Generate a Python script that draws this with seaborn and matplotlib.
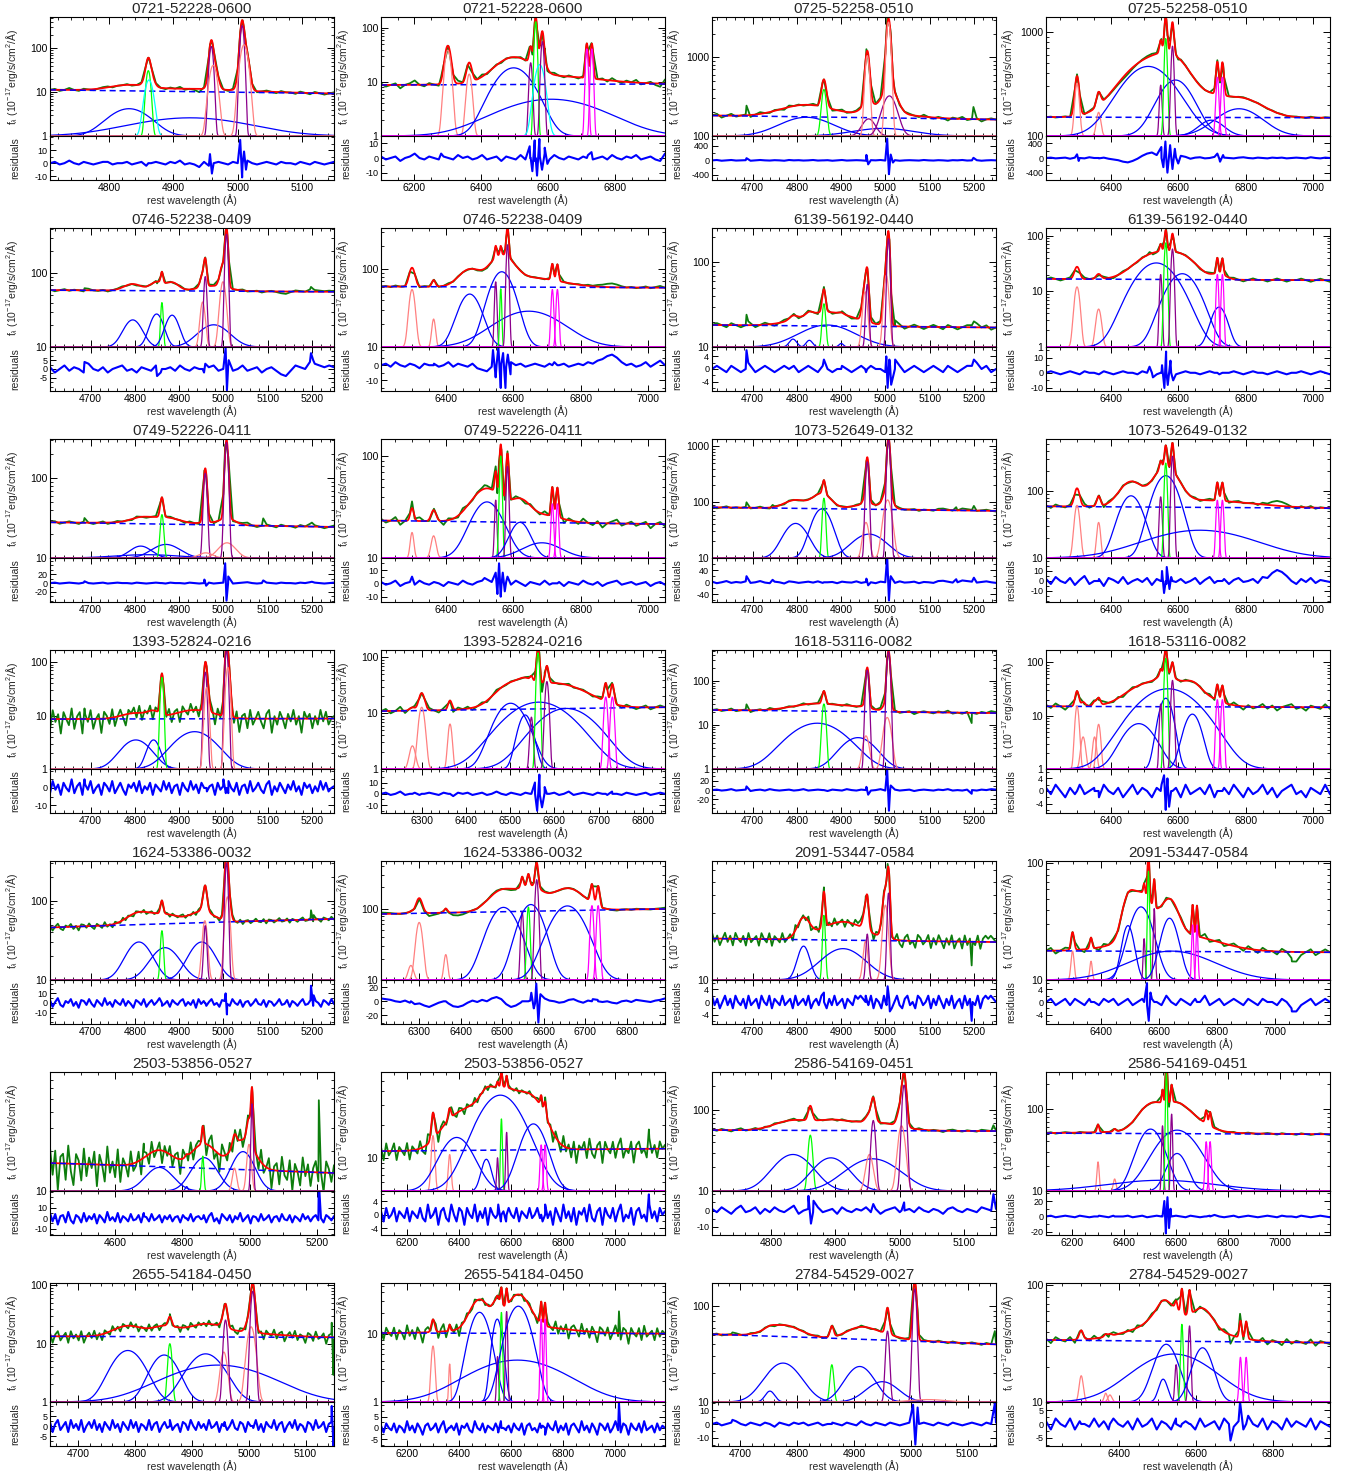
import numpy as np
import matplotlib
matplotlib.use('Agg')
import matplotlib.pyplot as plt
import seaborn as sns
from matplotlib.ticker import LogLocator, FuncFormatter, MultipleLocator, AutoMinorLocator, NullFormatter, FixedLocator

# ---------------- data ----------------
# component tuples: (centre [A], amplitude above axis floor, sigma [A], kind)
# kinds: B broad Balmer, N narrow Balmer, I intermediate Balmer, C forbidden core, W wing/[OI], S [SII]
# fscale: flux units per residual unit (how strongly the residual shows in the observed spectrum)

p01_title = '0721-52228-0600'; p01_x = (4708, 5150); p01_xstep = 100; p01_y = (1, 520); p01_cont = (11.3, 9.3)
p01_lines = [(4831, 3.2, 28, 'B'), (4926, 1.6, 80, 'B'), (4861, 30, 3, 'N'), (4862, 18, 5.5, 'I'),
             (4959, 110, 2.6, 'C'), (4962, 40, 5, 'W'), (5007, 330, 2.4, 'C'), (5010, 120, 5, 'W')]
p01_r = (-13, 21); p01_rticks = [-10, 0, 10]; p01_fscale = 0.6
p01_noise = [0,1,-1,0,2,0,-1,1,0,-1,0,1,1,-1,0,0,1,-1,0,1,-2,0,1,0,-1,1,0,2,-1,0,-1,-3,1,-2,0,1,0,-1,1,0,-1,2,0,-1,0,1,0,-1,1,0,0,-1,1,0,-1,1,0,-1,0,1]
p01_spikes = [(4957, 7), (4960, -8), (5004, 18), (5007, -11), (5010, 9), (5013, -5)]

p02_title = '0721-52228-0600'; p02_x = (6100, 6950); p02_xstep = 200; p02_y = (1, 160); p02_cont = (8.8, 9.2)
p02_lines = [(6300, 38, 8, 'W'), (6364, 13, 7, 'W'), (6497, 17.3, 48, 'B'), (6609, 3.8, 132, 'B'),
             (6548, 21.7, 4, 'C'), (6563, 130, 3.5, 'N'), (6575, 20, 12.5, 'I'), (6583, 55, 4, 'C'),
             (6716, 40, 3.5, 'S'), (6731, 40, 3.5, 'S')]
p02_r = (-15, 15); p02_rticks = [-10, 0, 10]; p02_fscale = 0.6
p02_noise = [1,-1,0,1,-2,0,1,3,0,-1,1,0,-1,1,0,-1,2,0,1,-1,0,2,-1,0,1,-2,1,0,-1,2,-1,0,-2,1,3,-1,2,0,-1,1,0,-1,1,2,-1,0,1,-1,2,0,-1,1,0,2,-1,0,1,-1,-2,3]
p02_spikes = [(6280, 3), (6545, 8), (6553, -9), (6560, 12), (6567, -12), (6574, 13), (6582, -8), (6590, 7), (6598, -4), (6730, 4)]

p03_title = '0725-52258-0510'; p03_x = (4608, 5250); p03_xstep = 100; p03_y = (100, 3250); p03_cont = (182, 162)
p03_lines = [(4821, 73, 55, 'B'), (4995, 25, 65, 'B'), (4861, 290, 5, 'N'), (4962, 65, 14, 'C'),
             (4959, 950, 4.5, 'W'), (5009, 223, 15, 'C'), (5007, 2700, 4.5, 'W')]
p03_r = (-540, 670); p03_rticks = [-400, 0, 400]; p03_fscale = 1.0
p03_noise = [0,10,-10,0,10,-5,0,5,-10,0,10,0,-5,5,0,-10,10,0,5,-5,0,10,-5,0,5,-10,0,10,-5,0,5,0,-10,5,0,10,-5,0,5,-10,0,5,0,-5,10,0,-5,5,0,-10,5,0,10,-5,0,5,-10,0,5,0]
p03_spikes = [(4686, 60), (4957, 150), (4961, -110), (5004, 600), (5008, -380), (5012, 160), (5017, -60), (5199, 70)]

p04_title = '0725-52258-0510'; p04_x = (6208, 7050); p04_xstep = 200; p04_y = (100, 1400); p04_cont = (152, 150)
p04_lines = [(6300, 221, 6, 'W'), (6364, 69, 6, 'W'), (6511, 368, 72, 'B'), (6592, 246, 47, 'B'),
             (6548, 209, 3.5, 'C'), (6563, 767, 4, 'N'), (6583, 633, 4, 'C'), (6698, 42, 35, 'B'),
             (6780, 83, 63, 'B'), (6716, 268, 4, 'S'), (6731, 268, 4, 'S')]
p04_r = (-600, 600); p04_rticks = [-400, 0, 400]; p04_fscale = 0.15
p04_noise = [0,10,-10,0,10,-20,10,0,-10,20,0,-10,10,-20,-40,-60,-100,-120,-80,-20,60,120,150,80,0,-30,40,20,60,30,-20,10,20,-10,0,30,-20,10,0,-10,10,20,0,-10,10,0,-10,10,0,10,-10,0,10,0,-10,20,0,-10,10,0]
p04_spikes = [(6300, 100), (6305, -80), (6550, 300), (6556, -250), (6562, 450), (6568, -400), (6576, 350), (6583, -300), (6590, 250), (6600, -150), (6716, 120), (6724, -100), (6733, 80)]

p05_title = '0746-52238-0409'; p05_x = (4608, 5250); p05_xstep = 100; p05_y = (10, 410); p05_cont = (59, 56)
p05_lines = [(4795, 13.3, 19, 'B'), (4849, 18, 14, 'B'), (4861, 30, 2.5, 'N'), (4884, 17, 14, 'B'),
             (4978, 10, 32, 'B'), (4953, 30.7, 5, 'W'), (4959, 80, 3, 'C'), (4999, 66.6, 6, 'W'), (5007, 327, 3, 'C')]
p05_r = (-12.5, 12.5); p05_rticks = [-5, 0, 5]; p05_fscale = 1.0
p05_noise = [1,-2,0,2,-1,1,0,-2,3,0,-1,1,-2,0,1,2,-1,0,-2,1,0,-1,2,-2,0,1,-1,2,0,-1,1,0,-2,1,2,-1,0,1,-1,0,2,-1,0,1,-2,0,1,-1,-3,-4,-1,2,1,0,4,3,2,1,2,1]
p05_spikes = [(4686, 4), (4850, -4), (4959, 3), (5005, 12), (5008, -12), (5012, 5), (5198, 9), (5203, 5)]

p06_title = '0746-52238-0409'; p06_x = (6208, 7050); p06_xstep = 200; p06_y = (10, 340); p06_cont = (60, 58)
p06_lines = [(6300, 45, 8, 'W'), (6364, 12.9, 5, 'W'), (6471, 38, 30, 'B'), (6566, 83, 32, 'B'),
             (6646, 18.9, 89, 'B'), (6548, 59, 3, 'C'), (6563, 46, 2.5, 'N'), (6583, 197, 3.5, 'C'),
             (6716, 45, 3.5, 'S'), (6731, 45, 3.5, 'S')]
p06_r = (-17, 12); p06_rticks = [-10, 0]; p06_fscale = 1.0
p06_noise = [0,1,-1,2,0,-1,1,0,-2,1,0,1,-1,0,2,-1,1,0,-1,1,-2,-3,-4,-1,0,1,-1,2,0,1,-1,0,1,0,-1,1,2,0,1,-1,0,1,0,2,1,3,4,6,7,5,2,0,1,-1,0,2,-1,1,3,0]
p06_spikes = [(6540, 10), (6548, -8), (6556, 12), (6563, -15), (6570, 8), (6577, -15), (6584, 7), (6592, -6)]

p07_title = '6139-56192-0440'; p07_x = (4608, 5250); p07_xstep = 100; p07_y = (10, 255); p07_cont = (18.2, 17)
p07_lines = [(4868, 8.2, 57, 'B'), (4791, 2.4, 8, 'B'), (4828, 2, 7, 'B'), (4900, 1, 5, 'B'),
             (4861, 22.4, 3.5, 'N'), (4954, 35, 5, 'W'), (4959, 45, 3, 'C'), (5002, 60, 5, 'W'), (5007, 180, 3, 'C')]
p07_r = (-7, 7); p07_rticks = [-4, 0, 4]; p07_fscale = 1.0
p07_noise = [0,1,0,-1,1,0,-1,0,1,-1,0,1,0,-1,0,1,0,1,-1,0,1,0,-1,1,0,-1,0,1,0,-1,0,1,-1,1,0,0,-1,1,0,1,-1,0,1,0,-1,0,1,0,-1,1,0,-1,0,1,1,2,0,1,-1,0]
p07_spikes = [(4686, 6), (4690, 2), (4861, 3), (5002, 4), (5005, -6), (5009, 3), (5013, -5), (5022, 3), (5200, 3)]

p08_title = '6139-56192-0440'; p08_x = (6208, 7050); p08_xstep = 200; p08_y = (1, 137); p08_cont = (16.7, 15.8)
p08_lines = [(6300, 11, 7, 'W'), (6364, 3.8, 7, 'W'), (6535, 31.3, 53, 'B'), (6612, 19.7, 40, 'B'),
             (6548, 19, 3, 'C'), (6563, 73, 3.5, 'N'), (6583, 56.6, 3.5, 'C'), (6721, 4.2, 20, 'B'),
             (6716, 19, 3, 'S'), (6731, 19, 3, 'S')]
p08_r = (-12, 17); p08_rticks = [-10, 0, 10]; p08_fscale = 1.0
p08_noise = [0,1,0,-1,0,1,0,-1,1,0,0,-1,1,0,-1,0,1,0,0,-1,1,0,0,-1,0,1,0,-1,0,1,0,0,-1,0,1,0,-1,0,0,1,0,-1,0,1,0,0,-1,0,1,0,-1,0,0,1,0,-1,0,1,0,-1]
p08_spikes = [(6515, 4), (6525, -3), (6552, 5), (6559, -10), (6564, 14), (6569, -8), (6577, 8), (6585, -5)]

p09_title = '0749-52226-0411'; p09_x = (4608, 5250); p09_xstep = 100; p09_y = (10, 310); p09_cont = (28, 24.5)
p09_lines = [(4813, 4.1, 23, 'B'), (4870, 4.8, 30, 'B'), (4827, 1, 70, 'B'), (4861, 25, 3.5, 'N'),
             (4959, 105, 3.5, 'C'), (4960, 1.6, 15, 'W'), (5008, 5.5, 18, 'W'), (5007, 270, 3.5, 'C')]
p09_r = (-43, 57); p09_rticks = [-20, 0, 20]; p09_fscale = 1.0
p09_noise = [0,1,-1,0,1,0,-1,1,0,-1,0,1,-1,0,1,0,0,-1,1,0,-1,0,1,0,-1,1,0,0,-1,1,0,-1,0,1,-1,0,1,0,-1,0,1,2,0,-1,0,1,0,-1,1,0,0,-1,1,0,2,1,0,-1,0,1]
p09_spikes = [(4686, 4), (4957, 8), (4961, -6), (5004, 45), (5007, -40), (5011, 15), (5090, 6), (5200, 3)]

p10_title = '0749-52226-0411'; p10_x = (6208, 7050); p10_xstep = 200; p10_y = (10, 147); p10_cont = (23.3, 21.5)
p10_lines = [(6300, 7.8, 5, 'W'), (6364, 6.5, 7, 'W'), (6522, 25.5, 42, 'B'), (6548, 27, 3, 'C'),
             (6563, 90, 3.5, 'N'), (6583, 69, 3.5, 'C'), (6620, 12.4, 28, 'B'), (6685, 4.1, 54, 'B'),
             (6716, 24, 3.5, 'S'), (6731, 24, 3.5, 'S')]
p10_r = (-14, 19); p10_rticks = [-10, 0, 10]; p10_fscale = 1.0
p10_noise = [1,-1,0,2,-2,0,1,-1,2,0,-1,1,0,-2,1,0,-1,2,0,-1,1,2,3,1,0,-2,1,-1,2,0,-2,1,0,-1,2,-1,0,1,-2,1,0,-1,2,0,-1,1,-2,0,1,2,-1,0,1,-1,0,1,-2,0,1,-1]
p10_spikes = [(6300, 5), (6515, 4), (6548, 8), (6553, -8), (6558, 15), (6563, -10), (6569, 8), (6575, -6), (6583, 5)]

p11_title = '1073-52649-0132'; p11_x = (4608, 5250); p11_xstep = 100; p11_y = (10, 1360); p11_cont = (81, 70)
p11_lines = [(4797, 31.7, 23.5, 'B'), (4856, 65.8, 19, 'B'), (4861, 108, 3, 'N'), (4963, 16.8, 34, 'B'),
             (4956, 33.5, 6, 'W'), (4959, 520, 3, 'C'), (5005, 100, 8, 'W'), (5007, 1290, 3, 'C')]
p11_r = (-65, 80); p11_rticks = [-40, 0, 40]; p11_fscale = 1.0
p11_noise = [2,-3,0,4,-2,1,-1,3,-2,0,4,-1,-3,2,0,-4,3,1,-2,0,2,-1,3,-2,0,1,-3,2,0,-1,3,-2,1,0,-3,2,0,1,-2,3,-1,0,2,-3,1,0,-2,4,5,2,-1,0,6,4,2,-1,1,3,0,-2]
p11_spikes = [(4686, 20), (4745, 8), (4957, 12), (4961, -10), (5004, 85), (5008, -60), (5012, 20), (5160, 10), (5200, 15)]

p12_title = '1073-52649-0132'; p12_x = (6208, 7050); p12_xstep = 200; p12_y = (10, 600); p12_cont = (59, 55.5)
p12_lines = [(6300, 51, 7, 'W'), (6364, 24, 5, 'W'), (6460, 75, 30, 'B'), (6548, 72, 3.5, 'C'),
             (6563, 160, 32, 'B'), (6563, 252, 3.5, 'N'), (6583, 323, 3.5, 'C'), (6664, 16, 140, 'B'),
             (6716, 63, 3.5, 'S'), (6731, 63, 3.5, 'S')]
p12_r = (-21, 23); p12_rticks = [-10, 0, 10]; p12_fscale = 1.0
p12_noise = [2,-3,4,0,-2,3,-4,1,5,-3,0,2,-5,3,1,-2,4,-3,0,2,-1,3,-4,2,0,-3,4,-1,2,-2,0,3,-3,1,4,-2,0,2,-3,1,3,-1,0,2,-2,4,3,8,11,9,5,0,-3,2,-1,3,-2,1,0,-1]
p12_spikes = [(6552, 10), (6558, -12), (6566, 14), (6574, -8)]

p13_title = '1393-52824-0216'; p13_x = (4608, 5250); p13_xstep = 100; p13_y = (1, 169); p13_cont = (8.6, 8.8)
p13_lines = [(4802, 2.5, 30, 'B'), (4842, 2.5, 13, 'B'), (4861, 50.8, 3, 'N'), (4935, 4, 41, 'B'),
             (4959, 64, 3, 'C'), (4962, 32.5, 4, 'W'), (5007, 165, 3, 'C'), (5010, 79, 4, 'W')]
p13_r = (-14.5, 11); p13_rticks = [-10, 0]; p13_fscale = 1.0
p13_noise = [-3,4,-1,2,-4,3,0,-2,5,-3,1,3,-4,2,-1,4,-3,0,2,-4,3,1,-2,4,-3,0,3,-1,-4,2,0,3,-2,4,-3,1,-1,3,-4,2,0,-2,4,-1,3,-3,1,2,-4,3,0,-2,4,-1,2,-3,3,0,-2,1,
             2,-4,3,-1,1,-3,4,0,-2,3,-4,1,2,-3,4,-2,0,3,-1,-3,2,4,-4,1,-2,3,0,-3,2,-1,4,-2,1,-4,3,0,2,-3,1,-2,4,-1,3,-2,0,1]
p13_spikes = [(4686, 5), (5000, 5), (5011, -3)]

p14_title = '1393-52824-0216'; p14_x = (6208, 6850); p14_xstep = 100; p14_y = (1, 136); p14_cont = (10.9, 12.8)
p14_lines = [(6300, 11.8, 6, 'W'), (6279, 1.6, 6, 'W'), (6364, 5.4, 4, 'W'), (6501, 14.1, 29, 'B'),
             (6534, 8.3, 14, 'B'), (6565, 14.8, 63, 'B'), (6627, 11.2, 56, 'B'), (6548, 7.5, 3, 'C'),
             (6563, 120, 3, 'N'), (6583, 36, 3.5, 'C'), (6716, 18.5, 3.5, 'S'), (6731, 18.5, 3.5, 'S')]
p14_r = (-17, 22); p14_rticks = [-10, 0, 10]; p14_fscale = 1.0
p14_noise = [0,1,-1,0,2,-1,0,1,-1,0,1,0,-1,1,0,-2,1,0,1,-1,0,1,-1,0,2,0,-1,1,0,-1,1,0,0,-1,1,0,1,-1,0,2,-1,0,1,0,-1,1,0,-1,2,0,-1,1,0,-1,0,1,-1,0,1,0]
p14_spikes = [(6556, 10), (6561, -15), (6566, 17), (6572, -12), (6578, 6)]

p15_title = '1618-53116-0082'; p15_x = (4608, 5250); p15_xstep = 100; p15_y = (1, 520); p15_cont = (22.2, 18.9)
p15_lines = [(4846, 10.1, 52, 'B'), (4938, 4.2, 33, 'B'), (4861, 29.5, 3.5, 'N'), (4956, 4.7, 6, 'W'),
             (4959, 179, 3, 'C'), (5004, 14, 7, 'W'), (5007, 469, 3, 'C')]
p15_r = (-50, 46); p15_rticks = [-20, 0, 20]; p15_fscale = 1.0
p15_noise = [0,1,-1,0,2,-1,0,1,-2,0,1,-1,2,0,-1,0,1,-1,0,2,-1,0,1,0,-2,1,0,-1,2,0,-1,1,0,-1,0,2,-1,0,1,-1,0,1,-2,0,1,0,-1,1,0,2,-1,0,-1,1,0,-1,1,0,2,1]
p15_spikes = [(4686, 8), (4957, 7), (4961, -10), (5004, 45), (5008, -45), (5012, 10), (5195, -8)]

p16_title = '1618-53116-0082'; p16_x = (6208, 7050); p16_xstep = 200; p16_y = (1, 171); p16_cont = (15, 14.4)
p16_lines = [(6300, 14, 5, 'W'), (6318, 3, 6, 'W'), (6364, 5.9, 5, 'W'), (6352, 3, 5, 'W'),
             (6483, 6.1, 40, 'B'), (6570, 31, 76, 'B'), (6563, 20.3, 17, 'B'), (6548, 15.6, 3, 'C'),
             (6563, 118, 3.5, 'N'), (6583, 45, 3.5, 'C'), (6642, 9.7, 21, 'B'), (6716, 19, 3.5, 'S'), (6731, 19, 3.5, 'S')]
p16_r = (-7, 7); p16_rticks = [-4, 0, 4]; p16_fscale = 1.0
p16_noise = [1,-1,2,0,-2,1,-1,2,-1,0,1,-2,2,0,-1,1,-2,0,2,-1,1,0,-2,1,2,-1,0,1,-2,2,-1,0,1,-1,2,-2,0,1,-1,2,0,-2,1,-1,0,2,-1,1,-2,0,1,2,-1,0,-2,1,0,-1,2,-1]
p16_spikes = [(6558, 5), (6563, -6), (6568, 4), (6573, -5)]

p17_title = '1624-53386-0032'; p17_x = (4608, 5250); p17_xstep = 100; p17_y = (10, 318); p17_cont = (46, 59)
p17_lines = [(4809, 20.2, 26, 'B'), (4868, 15.6, 29, 'B'), (4861, 31.9, 3, 'N'), (4951, 20.2, 26, 'B'),
             (4958, 46, 5, 'W'), (4959, 38.5, 3, 'C'), (5009, 102, 5, 'W'), (5007, 292, 3, 'C')]
p17_r = (-22, 24); p17_rticks = [-10, 0, 10]; p17_fscale = 1.0
p17_noise = [3,-4,1,5,-2,-4,2,0,4,-3,1,-5,3,2,-2,4,-1,-4,3,0,-3,5,-2,1,-4,3,0,-2,4,-3,2,-1,-5,3,1,-2,4,-4,0,3,-2,1,5,-3,-1,2,-4,3,0,-2,2,4,-3,1,-2,3,-5,4,-1,2,
             -3,1,4,-2,0,-4,3,2,-1,-3,4,0,-2,3,-4,1,2,-3,0,4,-1,-2,3,-4,2,1,-3,0,4,-2,-1,3,-4,2,0,-3,1,4,-2,-1,3,-3,2,0,-4,3,1,-2,4,-1]
p17_spikes = [(5005, 10), (5008, -12), (5198, 18), (5204, 8)]

p18_title = '1624-53386-0032'; p18_x = (6208, 6892); p18_xstep = 100; p18_y = (10, 464); p18_cont = (84, 99)
p18_lines = [(6300, 54, 7, 'W'), (6280, 6, 6, 'W'), (6364, 12.7, 4, 'W'), (6503, 94, 31, 'B'),
             (6548, 79.5, 3, 'C'), (6563, 95, 3, 'N'), (6569, 104, 26, 'B'), (6583, 244, 3.5, 'C'),
             (6657, 99, 36, 'B'), (6716, 100, 3.5, 'S'), (6731, 100, 3.5, 'S')]
p18_r = (-32, 30); p18_rticks = [-20, 0, 20]; p18_fscale = 1.0
p18_noise = [4,3,2,0,-1,1,-2,-4,-3,-6,-8,-5,-2,0,-3,-7,-8,-6,-2,1,-1,2,0,4,6,3,-4,-8,-6,-2,0,1,-3,2,4,1,0,-2,-1,2,3,0,-2,1,3,2,-1,0,-2,-3,0,1,-1,2,1,0,-1,1,2,4]
p18_spikes = [(6570, 12), (6576, -10), (6582, 25), (6587, -30), (6592, 10)]

p19_title = '2091-53447-0584'; p19_x = (4608, 5250); p19_xstep = 100; p19_y = (10, 70); p19_cont = (19.7, 18.6)
p19_lines = [(4815, 7.4, 13, 'B'), (4861, 18.8, 3, 'N'), (4904, 6.7, 47, 'B'), (4955, 8.9, 5, 'W'),
             (4959, 11.2, 3, 'C'), (5000, 24, 6, 'W'), (5007, 31.4, 3, 'C')]
p19_r = (-7, 7); p19_rticks = [-4, 0, 4]; p19_fscale = 1.0
p19_noise = [2,-1,1,-2,0,2,-1,1,-2,2,0,-1,1,-2,2,-1,0,1,-2,2,0,-1,2,-2,1,0,-1,2,-1,0,1,-2,2,-1,0,1,-1,2,-2,0,1,-1,2,0,-2,1,-1,2,-1,0,1,-2,1,0,-1,2,1,2,1,2,
             -1,2,-2,1,0,-2,2,-1,1,-2,0,2,-1,-2,1,2,-1,0,-2,2,1,-1,0,2,-2,1,-1,2,0,-2,1,-1,2,-2,0,1,-2,2,-1,1,0,-1,2,-2,1,2,1,2,1,0]
p19_spikes = [(4861, 3), (5005, 5), (5010, -3), (5195, -6)]

p20_title = '2091-53447-0584'; p20_x = (6208, 7192); p20_xstep = 200; p20_y = (10, 105); p20_cont = (17.8, 17.3)
p20_lines = [(6300, 7.7, 5, 'W'), (6364, 4.5, 4, 'W'), (6492, 19.3, 19, 'B'), (6537, 32.4, 36, 'B'),
             (6548, 12.6, 3, 'C'), (6563, 75.8, 3, 'N'), (6583, 31, 3, 'C'), (6636, 23.9, 27, 'B'),
             (6643, 7.7, 134, 'B'), (6716, 19.7, 3, 'S'), (6731, 19.7, 3, 'S')]
p20_r = (-7, 7); p20_rticks = [-4, 0, 4]; p20_fscale = 1.0
p20_noise = [0,1,-1,0,1,-1,1,0,-1,1,0,-1,1,0,1,-1,0,1,-1,0,1,-1,1,0,-1,2,0,-1,1,0,-1,1,0,2,-1,0,1,-1,0,1,0,-1,1,0,-1,1,0,0,-1,1,0,-2,-3,-1,0,1,-1,0,1,0]
p20_spikes = [(6558, 6), (6564, -6), (6570, 3), (7060, -3)]

p21_title = '2503-53856-0527'; p21_x = (4408, 5250); p21_xstep = 200; p21_y = (10, 80); p21_cont = (16.3, 13.7)
p21_lines = [(4732, 5.1, 38, 'B'), (4813, 0.8, 4, 'B'), (4865, 7.9, 35, 'B'), (4861, 8.4, 3, 'N'),
             (4980, 9.9, 31, 'B'), (4955, 4.9, 6, 'W'), (4998, 12.6, 6, 'W'), (5007, 36, 3, 'C')]
p21_r = (-16, 26); p21_rticks = [-10, 0, 10]; p21_fscale = 1.0
p21_noise = [5,-3,4,-6,2,3,-4,6,-2,-5,3,1,-4,5,-3,2,-1,4,-5,3,0,-4,6,-2,1,-3,5,-4,2,0,-3,4,-2,-1,3,-4,2,1,-3,4,-2,0,3,-4,2,-1,3,-3,1,2,-4,3,0,-2,4,-3,1,2,-1,3,
             -4,2,5,-3,0,-5,4,1,-2,3,-4,2,-1,5,-3,0,3,-5,2,1,-3,4,-2,0,3,-4,1,2,-3,4,-1,-2,3,-4,2,0,-3,4,-1,2,-3,1,3,-2,0,-4,3,1,-2,2]
p21_spikes = [(4686, 5), (5205, 35)]

p22_title = '2503-53856-0527'; p22_x = (6100, 7192); p22_xstep = 200; p22_y = (5, 60); p22_cont = (11.5, 12.1)
p22_lines = [(6300, 10.9, 6, 'W'), (6364, 5.7, 5, 'W'), (6391, 10.3, 58, 'B'), (6505, 4.7, 18, 'B'),
             (6559, 32, 80, 'B'), (6563, 17.6, 3, 'N'), (6548, 5, 3, 'C'), (6583, 12, 3, 'C'),
             (6686, 15.3, 45, 'B'), (6716, 8.1, 4, 'S'), (6731, 8.1, 4, 'S')]
p22_r = (-6, 7); p22_rticks = [-4, 0, 4]; p22_fscale = 1.0
p22_noise = [1,-2,2,-1,0,2,-2,1,0,-1,2,-2,1,0,-1,2,-1,-2,3,-1,0,2,-3,1,2,-1,-2,3,0,-2,2,1,-3,2,0,-1,3,-2,1,-1,2,-3,2,0,-1,3,-2,1,-2,2,0,-1,2,-2,1,0,-1,2,-1,0,
             2,-1,-2,3,-1,1,-3,2,0,-2,3,-1,1,-2,2,-3,1,0,2,-2,3,-1,-2,1,2,-3,2,0,-1,2,-2,1,3,-2,0,-1,2,-3,1,2,-1,0,-2,3,-1,1,-2,2,0,1]
p22_spikes = [(7130, 6)]

p23_title = '2586-54169-0451'; p23_x = (4708, 5150); p23_xstep = 100; p23_y = (10, 300); p23_cont = (57, 55.5)
p23_lines = [(4834, 18.4, 27, 'B'), (4861, 39.3, 3, 'N'), (4893, 15.8, 25, 'B'), (4958, 15.1, 37, 'B'),
             (4953, 18.4, 5, 'W'), (4959, 65, 3, 'C'), (5003, 54.5, 5, 'W'), (5007, 196, 3, 'C')]
p23_r = (-15, 12); p23_rticks = [-10, 0]; p23_fscale = 1.0
p23_noise = [1,-1,2,0,-2,1,3,-1,0,2,-2,1,-1,2,0,-1,1,3,-2,0,1,-1,2,-1,0,1,-2,2,0,-1,1,0,2,-1,1,-2,0,1,2,-1,0,1,-1,2,0,-1,1,0,-2,1,2,0,-1,1,0,-1,2,1,0,1]
p23_spikes = [(4858, 9), (4862, -8), (4866, 6), (4959, 4), (5007, 5), (5146, 10)]

p24_title = '2586-54169-0451'; p24_x = (6100, 7192); p24_xstep = 200; p24_y = (10, 280); p24_cont = (50.5, 49)
p24_lines = [(6300, 12.6, 4, 'W'), (6364, 4, 5, 'W'), (6543, 3.5, 196, 'B'), (6502, 46.6, 44, 'B'),
             (6604, 45, 73, 'B'), (6604, 18.6, 34, 'B'), (6548, 52, 3, 'C'), (6563, 261, 3, 'N'),
             (6583, 76, 3, 'C'), (6716, 29.8, 4, 'S'), (6731, 29.8, 4, 'S')]
p24_r = (-24, 33); p24_rticks = [-20, 0, 20]; p24_fscale = 1.0
p24_noise = [0,1,-1,0,1,0,-1,1,0,-1,0,1,0,-1,1,0,0,1,-1,0,1,-1,0,1,0,-1,0,1,0,-1,1,0,-1,0,1,2,0,-1,0,1,-1,0,1,0,-1,0,1,0,-1,1,0,0,-1,1,0,-1,0,1,0,-1]
p24_spikes = [(6555, 20), (6561, -22), (6567, 25), (6573, -15), (6579, 10)]

p25_title = '2655-54184-0450'; p25_x = (4650, 5150); p25_xstep = 100; p25_y = (1, 110); p25_cont = (13.4, 12.8)
p25_lines = [(4787, 6.65, 24, 'B'), (4851, 5.4, 20.5, 'B'), (4861, 9, 3, 'N'), (4924, 5.7, 27, 'B'),
             (4946, 3.3, 78, 'B'), (4956, 6.2, 5, 'W'), (4959, 24.5, 3, 'C'), (5004, 18.5, 6, 'W'), (5007, 78.7, 3, 'C')]
p25_r = (-10, 12); p25_rticks = [-5, 0, 5]; p25_fscale = 1.0
p25_noise = [2,-3,1,3,-2,0,2,-3,3,-1,1,-2,3,-3,0,2,-1,3,-2,1,-3,2,0,-2,3,-1,1,-3,2,0,-2,3,-1,2,-3,1,0,-2,3,-2,1,2,-3,0,2,-1,3,-2,0,1,-3,2,1,-2,3,0,-2,2,-1,1,
             -2,3,-1,0,2,-3,1,2,-2,0,3,-1,-2,2,1,-3,2,0,-1,3,-2,1,-3,2,0,-1,3,-2,1,2,-3,0,2,-1,3,-2,1,0,-3,2,1,-2,3,-1,0,2,-3,1,2,-1]
p25_spikes = [(5146, 10), (5149, -10)]

p26_title = '2655-54184-0450'; p26_x = (6100, 7192); p26_xstep = 200; p26_y = (1, 55); p26_cont = (10.2, 10)
p26_lines = [(6300, 5.6, 6, 'W'), (6364, 2.6, 3, 'W'), (6624, 3.1, 157, 'B'), (6479, 19.5, 32, 'B'),
             (6547, 15.3, 16, 'B'), (6548, 3.6, 3, 'C'), (6563, 19.5, 3, 'N'), (6583, 20, 3, 'C'),
             (6628, 24.2, 37, 'B'), (6716, 15.3, 3, 'S'), (6731, 15.3, 3, 'S')]
p26_r = (-8, 11.5); p26_rticks = [-5, 0, 5]; p26_fscale = 1.0
p26_noise = [1,-2,2,0,-1,2,-2,1,0,-2,3,-1,1,-2,2,0,-3,1,2,-1,0,2,-2,1,3,-2,0,1,-1,2,-3,1,0,2,-1,-2,3,0,-1,2,-2,1,0,-1,2,-2,3,0,-1,1,-2,2,0,-1,2,-3,1,2,-1,0,
             -2,2,1,-3,2,0,-1,3,-2,1,-1,2,-3,1,2,0,-2,3,-1,1,-2,2,0,-3,2,1,-1,2,-2,0,3,-1,-2,2,1,-3,2,0,-1,2,-2,3,-1,0,1,-2,2,-1,1,0]
p26_spikes = [(7015, 11)]

p27_title = '2784-54529-0027'; p27_x = (4650, 5150); p27_xstep = 100; p27_y = (10, 175); p27_cont = (51, 40)
p27_lines = [(4775, 15.5, 28, 'B'), (4752, 3, 8, 'B'), (4861, 14.5, 3, 'N'), (4910, 13.5, 23, 'B'),
             (4950, 6.3, 26, 'B'), (4959, 45, 3, 'C'), (5007, 142, 3, 'C'), (5030, 0.6, 30, 'W')]
p27_r = (-16, 16); p27_rticks = [-10, 0, 10]; p27_fscale = 1.0
p27_noise = [0,1,-1,0,1,2,0,-1,1,0,-1,1,0,-2,1,0,-1,1,0,1,-1,0,1,-1,0,1,0,-1,1,0,-1,2,0,-1,1,0,-1,1,0,-1,0,1,-1,0,1,0,-1,1,0,-1,1,0,-1,0,1,0,-1,1,0,1]
p27_spikes = [(4686, 3), (5004, 14), (5008, -15), (5012, 12), (5148, 15)]

p28_title = '2784-54529-0027'; p28_x = (6208, 6950); p28_xstep = 200; p28_y = (10, 105); p28_cont = (34, 32.3)
p28_lines = [(6300, 6.8, 5, 'W'), (6364, 1.9, 4, 'W'), (6375, 1.5, 5, 'W'), (6542, 15.8, 94, 'B'),
             (6522, 21.3, 28, 'B'), (6514, 5.7, 11, 'B'), (6548, 10.9, 3, 'C'), (6563, 36.4, 3, 'N'),
             (6583, 35, 3, 'C'), (6617, 19.2, 24, 'B'), (6716, 14.2, 3, 'S'), (6731, 14.2, 3, 'S')]
p28_r = (-8, 8); p28_rticks = [-5, 0, 5]; p28_fscale = 1.0
p28_noise = [1,-2,2,0,-1,2,-2,1,0,-1,2,-1,1,-2,2,0,-1,1,-2,2,-1,0,2,-2,1,0,-2,2,-1,1,0,-2,2,-1,0,1,-2,2,0,-1,1,-2,3,0,-1,2,-2,1,0,-2,2,-1,1,0,-1,2,-2,1,0,-1]
p28_spikes = [(6690, -6), (6715, 8)]

# ---------------- style ----------------
KIND_COLOR = {'B': '#0000ff', 'N': '#00ff00', 'I': '#00ffff', 'C': '#8b008b', 'W': '#ff8080', 'S': '#ff00ff'}
SPEC_COLOR = '#0d7d0d'
MODEL_COLOR = '#ff0000'
RES_COLOR = '#0000ff'

sns.set_theme(style='white')
plt.rcParams['font.family'] = ['Liberation Sans', 'DejaVu Sans']
plt.rcParams['mathtext.fontset'] = 'custom'
plt.rcParams['mathtext.rm'] = 'Liberation Sans'
plt.rcParams['mathtext.it'] = 'Liberation Sans:italic'
plt.rcParams['axes.edgecolor'] = 'black'
plt.rcParams['axes.linewidth'] = 0.8

W, H = 1347, 1471
fig = plt.figure(figsize=(W / 100, H / 100), dpi=100)
fig.patch.set_facecolor('white')
LEFTS = [50, 381, 712, 1046]
AXW = 284
YLAB = r'f$_\lambda$ (10$^{-17}$erg/s/cm$^2$/Å)'
fmt = FuncFormatter(lambda v, p: f'{v:g}')


def gauss_sum(x, lines):
    tot = np.zeros_like(x, dtype=float)
    for c, a, s, k in lines:
        tot += a * np.exp(-0.5 * ((x - c) / s) ** 2)
    return tot


def line(ax, x, y, **kw):
    sns.lineplot(x=x, y=y, ax=ax, estimator=None, errorbar=None, legend=False, **kw)


g = globals()
for i in range(1, 29):
    pre = f'p{i:02d}_'
    title = g[pre + 'title']; lo, hi = g[pre + 'x']; xstep = g[pre + 'xstep']
    ylo, yhi = g[pre + 'y']; c0, c1 = g[pre + 'cont']; lines = g[pre + 'lines']
    rlo, rhi = g[pre + 'r']; rticks = g[pre + 'rticks']; fscale = g[pre + 'fscale']
    noise = np.array(g[pre + 'noise'], dtype=float); spikes = g[pre + 'spikes']

    r, c = divmod(i - 1, 4)
    left = LEFTS[c]
    ax = fig.add_axes([left / W, 1 - (136 + 211 * r) / H, AXW / W, 119 / H])
    axr = fig.add_axes([left / W, 1 - (180 + 211 * r) / H, AXW / W, 44 / H])

    cont = lambda x: c0 + (c1 - c0) * (x - lo) / (hi - lo)
    xf = np.linspace(lo, hi, 1500)
    model_f = cont(xf) + gauss_sum(xf, lines)

    # residual / spectrum sample points
    xg = np.linspace(lo, hi, len(noise))
    sx = np.array([s[0] for s in spikes], dtype=float)
    sv = np.array([s[1] for s in spikes], dtype=float)
    nar = np.array([l[0] for l in lines if l[2] <= 6 and (len(sx) == 0 or np.min(np.abs(sx - l[0])) > 2)], dtype=float)
    xr = np.concatenate([xg, sx, nar])
    rv = np.concatenate([noise, sv, np.zeros(len(nar))])
    o = np.argsort(xr, kind='stable')
    xr, rv = xr[o], rv[o]
    spec = cont(xr) + gauss_sum(xr, lines) + fscale * rv

    line(ax, xr, spec, color=SPEC_COLOR, lw=1.3)
    line(ax, xf, model_f, color=MODEL_COLOR, lw=1.3)
    line(ax, xf, cont(xf), color='#0000ff', lw=1.1, linestyle=(0, (4, 2.5)))
    for (cc, a, s, k) in lines:
        line(ax, xf, ylo + a * np.exp(-0.5 * ((xf - cc) / s) ** 2), color=KIND_COLOR[k], lw=0.9)

    ax.set_yscale('log')
    ax.set_xlim(lo, hi); ax.set_ylim(ylo, yhi)
    ax.yaxis.set_major_locator(LogLocator(base=10))
    ax.yaxis.set_minor_locator(LogLocator(base=10, subs=np.arange(2, 10)))
    ax.yaxis.set_major_formatter(fmt); ax.yaxis.set_minor_formatter(NullFormatter())
    ax.xaxis.set_major_locator(MultipleLocator(xstep))
    ax.xaxis.set_minor_locator(AutoMinorLocator(5 if xstep == 100 else 4))
    ax.tick_params(which='both', direction='in', top=True, right=True, bottom=True, left=True,
                   labelbottom=False, labelsize=7.5, pad=2, colors='black')
    ax.tick_params(which='major', length=5, width=0.7)
    ax.tick_params(which='minor', length=2.5, width=0.6)
    ax.set_xlabel('')
    ax.set_ylabel(YLAB, fontsize=7.5)
    ax.yaxis.set_label_coords(-0.105, 0.5)
    ax.set_title(title, fontsize=11, pad=3)

    # residuals
    line(axr, xr, rv, color=RES_COLOR, lw=1.5)
    axr.set_xlim(lo, hi); axr.set_ylim(rlo, rhi)
    axr.xaxis.set_major_locator(MultipleLocator(xstep))
    axr.xaxis.set_minor_locator(AutoMinorLocator(5 if xstep == 100 else 4))
    axr.yaxis.set_major_locator(FixedLocator(rticks))
    axr.yaxis.set_minor_locator(AutoMinorLocator(2))
    axr.yaxis.set_major_formatter(fmt)
    axr.tick_params(which='both', direction='in', top=True, right=True, bottom=True, left=True,
                    labelsize=6.5, pad=2, colors='black')
    axr.tick_params(axis='x', labelsize=7.5)
    axr.tick_params(which='major', length=4, width=0.7)
    axr.tick_params(which='minor', length=2, width=0.6)
    axr.set_xlabel('rest wavelength (Å)', fontsize=7.5, labelpad=1)
    axr.set_ylabel('residuals', fontsize=7.5)
    axr.yaxis.set_label_coords(-0.105, 0.5)

fig.savefig('out.png', dpi=100, facecolor='white')
